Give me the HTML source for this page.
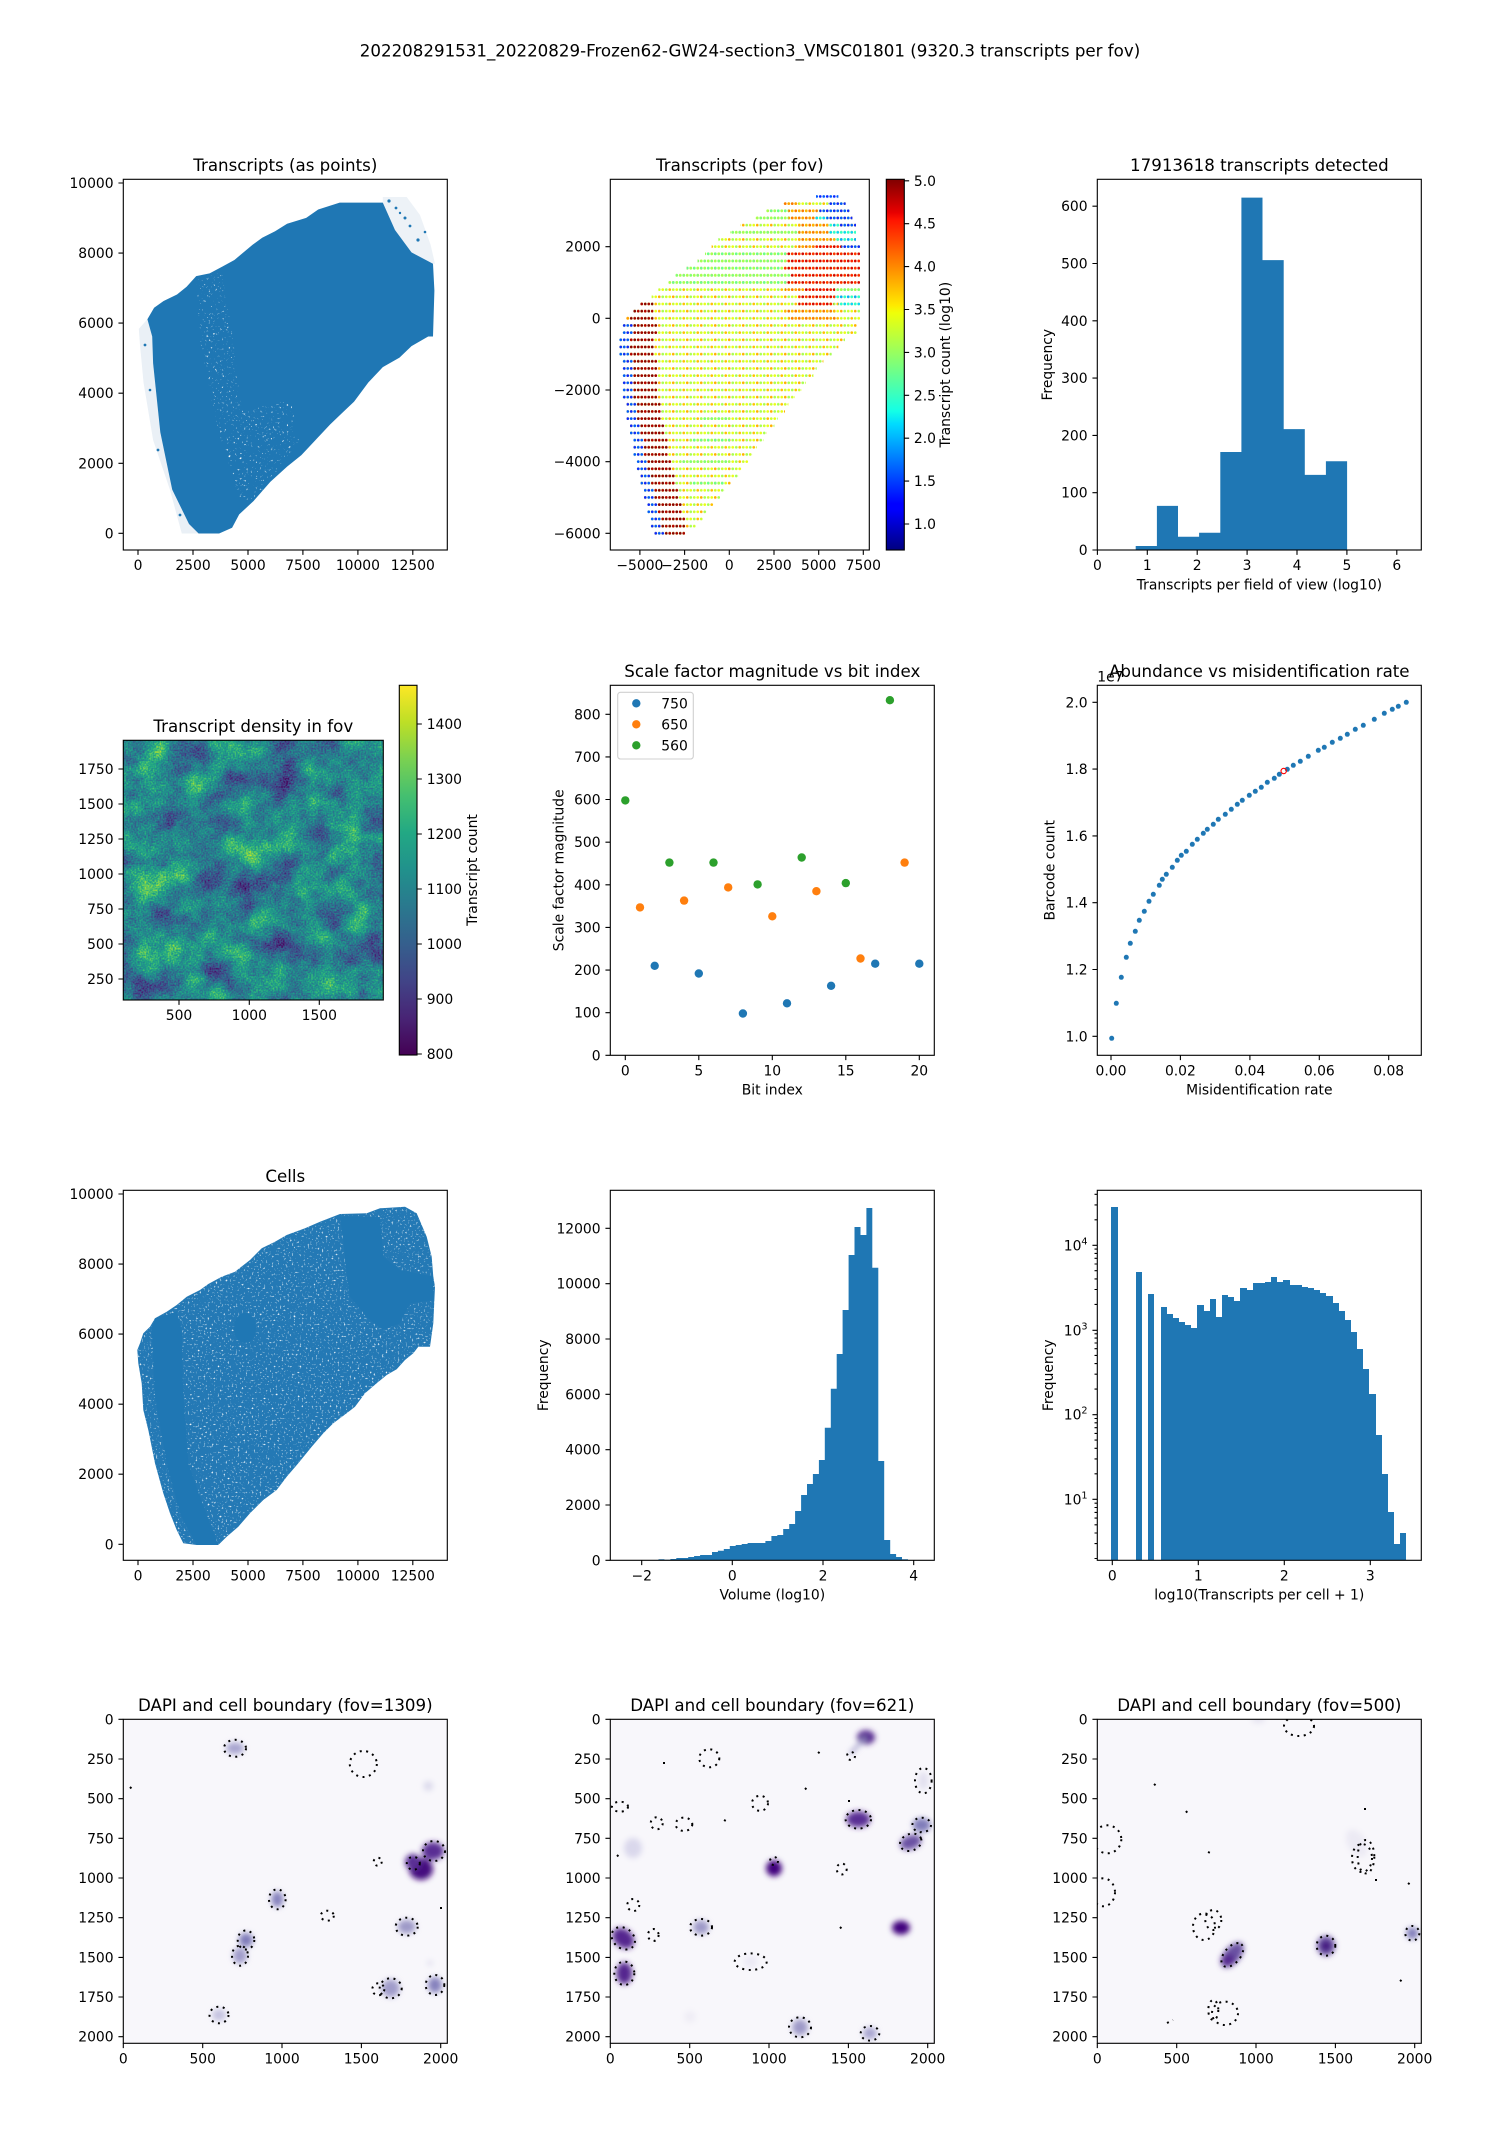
<!DOCTYPE html>
<html><head><meta charset="utf-8"><style>
html,body{margin:0;padding:0;background:#fff}
svg{display:block}
text{font-family:"DejaVu Sans","Liberation Sans",sans-serif;fill:#000}
.tk{font-size:13.89px}
.ti{font-size:16.67px;text-anchor:middle}
.lb{font-size:13.89px;text-anchor:middle}
.e{text-anchor:end}
.m{text-anchor:middle}
.ax{fill:none;stroke:#000;stroke-width:1.11}
.tc{fill:none;stroke:#000;stroke-width:1.11}
.dt{fill:none;stroke:#000;stroke-width:2;stroke-dasharray:2 4.5}
</style></head><body>
<svg width="1500" height="2150" viewBox="0 0 1500 2150" xmlns="http://www.w3.org/2000/svg">
<defs>
<clipPath id="cA"><rect x="123.3" y="179.3" width="324" height="370.7"/></clipPath>
<clipPath id="cG"><rect x="123.3" y="1190.3" width="324" height="370"/></clipPath>
<clipPath id="c4a"><rect x="123.3" y="1719.3" width="324" height="324"/></clipPath>
<clipPath id="c4b"><rect x="610.3" y="1719.3" width="324" height="324"/></clipPath>
<clipPath id="c4c"><rect x="1097.3" y="1719.3" width="324" height="324"/></clipPath>
<linearGradient id="jet" x1="0" y1="1" x2="0" y2="0">
<stop offset="0" stop-color="#000080"/><stop offset="0.11" stop-color="#0000ff"/><stop offset="0.125" stop-color="#0000ff"/><stop offset="0.34" stop-color="#00dbff"/><stop offset="0.375" stop-color="#14ffe6"/><stop offset="0.5" stop-color="#7dff7a"/><stop offset="0.64" stop-color="#f0ff08"/><stop offset="0.66" stop-color="#ffea00"/><stop offset="0.89" stop-color="#ff1400"/><stop offset="0.91" stop-color="#e80000"/><stop offset="1" stop-color="#800000"/>
</linearGradient>
<linearGradient id="vg" x1="0" y1="1" x2="0" y2="0">
<stop offset="0" stop-color="#440154"/><stop offset="0.1" stop-color="#482475"/><stop offset="0.2" stop-color="#414487"/><stop offset="0.3" stop-color="#355f8d"/><stop offset="0.4" stop-color="#2a788e"/><stop offset="0.5" stop-color="#21918c"/><stop offset="0.6" stop-color="#22a884"/><stop offset="0.7" stop-color="#44bf70"/><stop offset="0.8" stop-color="#7ad151"/><stop offset="0.9" stop-color="#bddf26"/><stop offset="1" stop-color="#fde725"/>
</linearGradient>
<filter id="vir" filterUnits="userSpaceOnUse" x="123.3" y="740.3" width="260" height="260" color-interpolation-filters="sRGB">
<feTurbulence type="fractalNoise" baseFrequency="0.03" numOctaves="3" seed="11" result="a0"/>
<feColorMatrix in="a0" type="matrix" values="1 0 0 0 0 1 0 0 0 0 1 0 0 0 0 0 0 0 0 1" result="a"/>
<feTurbulence type="fractalNoise" baseFrequency="0.6" numOctaves="1" seed="4" result="b0"/>
<feColorMatrix in="b0" type="matrix" values="1 0 0 0 0 1 0 0 0 0 1 0 0 0 0 0 0 0 0 1" result="b"/>
<feComposite in="a" in2="b" operator="arithmetic" k1="0" k2="0.6" k3="0.4" k4="0" result="c"/>
<feColorMatrix in="c" type="matrix" values="1.5 0 0 0 -0.3 1.5 0 0 0 -0.3 1.5 0 0 0 -0.3 0 0 0 0 1"/>
<feComponentTransfer>
<feFuncR type="table" tableValues="0.267 0.282 0.255 0.208 0.165 0.129 0.133 0.267 0.478 0.741 0.993"/>
<feFuncG type="table" tableValues="0.005 0.141 0.267 0.373 0.471 0.567 0.659 0.749 0.821 0.873 0.906"/>
<feFuncB type="table" tableValues="0.329 0.458 0.530 0.553 0.558 0.551 0.518 0.441 0.318 0.150 0.144"/>
</feComponentTransfer>
</filter>
<filter id="spk" x="0" y="0" width="1" height="1" color-interpolation-filters="sRGB">
<feTurbulence type="fractalNoise" baseFrequency="0.45" numOctaves="2" seed="7"/>
<feColorMatrix type="matrix" values="0 0 0 0 1 0 0 0 0 1 0 0 0 0 1 6 0 0 0 -4.0"/>
<feComposite in2="SourceGraphic" operator="in"/>
</filter>
<filter id="spk2" x="0" y="0" width="1" height="1" color-interpolation-filters="sRGB">
<feTurbulence type="fractalNoise" baseFrequency="0.5" numOctaves="2" seed="3"/>
<feColorMatrix type="matrix" values="0 0 0 0 1 0 0 0 0 1 0 0 0 0 1 5 0 0 0 -3.15"/>
<feComposite in2="SourceGraphic" operator="in"/>
</filter>
<filter id="bl" x="-1" y="-1" width="3" height="3"><feGaussianBlur stdDeviation="3"/></filter>
<pattern id="pM" patternUnits="userSpaceOnUse" x="619" y="314.72" width="14" height="14.333">
<circle cx="1.75" cy="3.583" r="1.35" fill="#e8ff18"/><circle cx="5.25" cy="3.583" r="1.35" fill="#a8ff50"/><circle cx="8.75" cy="3.583" r="1.35" fill="#ffc000"/><circle cx="12.25" cy="3.583" r="1.35" fill="#ccff30"/>
<circle cx="1.75" cy="10.75" r="1.35" fill="#a8ff50"/><circle cx="5.25" cy="10.75" r="1.35" fill="#ccff30"/><circle cx="8.75" cy="10.75" r="1.35" fill="#e8ff18"/><circle cx="12.25" cy="10.75" r="1.35" fill="#ffb000"/>
</pattern>
<pattern id="pG" patternUnits="userSpaceOnUse" x="619" y="314.72" width="7" height="14.333"><circle cx="1.75" cy="3.583" r="1.35" fill="#7cff7a"/><circle cx="5.25" cy="3.583" r="1.35" fill="#a4ff52"/><circle cx="1.75" cy="10.75" r="1.35" fill="#a4ff52"/><circle cx="5.25" cy="10.75" r="1.35" fill="#66ff90"/></pattern>
<pattern id="pB" patternUnits="userSpaceOnUse" x="619" y="314.72" width="7" height="14.333"><circle cx="1.75" cy="3.583" r="1.35" fill="#0a28ff"/><circle cx="5.25" cy="3.583" r="1.35" fill="#0058ff"/><circle cx="1.75" cy="10.75" r="1.35" fill="#0058ff"/><circle cx="5.25" cy="10.75" r="1.35" fill="#0a28ff"/></pattern>
<pattern id="pC" patternUnits="userSpaceOnUse" x="619" y="314.72" width="7" height="14.333"><circle cx="1.75" cy="3.583" r="1.35" fill="#00d8ff"/><circle cx="5.25" cy="3.583" r="1.35" fill="#2affd0"/><circle cx="1.75" cy="10.75" r="1.35" fill="#2affd0"/><circle cx="5.25" cy="10.75" r="1.35" fill="#00b0ff"/></pattern>
<pattern id="pO" patternUnits="userSpaceOnUse" x="619" y="314.72" width="7" height="14.333"><circle cx="1.75" cy="3.583" r="1.35" fill="#ffa000"/><circle cx="5.25" cy="3.583" r="1.35" fill="#ff7400"/><circle cx="1.75" cy="10.75" r="1.35" fill="#ff7400"/><circle cx="5.25" cy="10.75" r="1.35" fill="#ffb400"/></pattern>
<pattern id="pR" patternUnits="userSpaceOnUse" x="619" y="314.72" width="7" height="14.333"><circle cx="1.75" cy="3.583" r="1.35" fill="#ff1e00"/><circle cx="5.25" cy="3.583" r="1.35" fill="#d80000"/><circle cx="1.75" cy="10.75" r="1.35" fill="#d80000"/><circle cx="5.25" cy="10.75" r="1.35" fill="#ff3000"/></pattern>
<pattern id="pD" patternUnits="userSpaceOnUse" x="619" y="314.72" width="7" height="14.333"><circle cx="1.75" cy="3.583" r="1.35" fill="#a00000"/><circle cx="5.25" cy="3.583" r="1.35" fill="#8a0000"/><circle cx="1.75" cy="10.75" r="1.35" fill="#8a0000"/><circle cx="5.25" cy="10.75" r="1.35" fill="#b00000"/></pattern>
</defs>
<rect width="1500" height="2150" fill="#fff"/>

<text class="ti" x="750" y="56.5">202208291531_20220829-Frozen62-GW24-section3_VMSC01801 (9320.3 transcripts per fov)</text>

<!-- ========== Panel A ========== -->
<g clip-path="url(#cA)">
<polygon fill="#eaf0f6" points="138.8,328.9 147.4,319.3 152.2,336.5 153.1,363.3 160.3,432.2 172.2,489.6 189,524 198.6,533.5 181.8,533.5 169.9,489.6 153.1,440 143.5,382.4 140,345"/>
<polygon fill="#edf2f7" points="382.8,197 406.7,197 420,215 430.6,244.7 435,263.8 433,263.8 411.5,252.4 395,230 382.8,202.6"/>
<polygon fill="#1f77b4" points="198.6,533.5 219.1,533.5 232.1,527.8 239.2,514.4 253.6,501 270.3,481.9 287.1,466.6 301.4,455.1 315.8,439.8 330.1,424.5 342.1,413 354.1,401.6 368.4,382.4 382.8,367.1 399.5,357.6 411.5,346.1 428.2,336.5 433,336.5 434.4,290.6 433,263.8 411.5,252.4 395,230 382.8,202.6 339.7,202.6 318.2,209.5 306.2,217.9 287.1,223.7 275.1,231.3 262.2,237.8 252.6,244.7 234.4,260 222.5,266.5 209.6,273.4 196.2,276.1 186.6,286.8 177,294.5 163.6,301 154.1,307.8 147.4,319.3 152.2,336.5 153.1,363.3 160.3,432.2 172.2,489.6 189,524"/>
<polygon fill="#000" filter="url(#spk)" points="196,280 222,272 232,330 240,400 268,470 268,500 240,500 215,420 200,340"/>
<polygon fill="#000" filter="url(#spk)" points="240,410 290,400 300,440 270,480"/>
<g fill="#1f77b4"><circle cx="389" cy="201" r="1.6"/><circle cx="396" cy="208" r="1.4"/><circle cx="405" cy="218" r="1.5"/><circle cx="410" cy="226" r="1.4"/><circle cx="418" cy="240" r="1.6"/><circle cx="425" cy="232" r="1.3"/><circle cx="400" cy="213" r="1.2"/><circle cx="145" cy="345" r="1.4"/><circle cx="150" cy="390" r="1.3"/><circle cx="158" cy="450" r="1.4"/><circle cx="180" cy="515" r="1.4"/></g>
</g>
<rect class="ax" x="123.3" y="179.3" width="324" height="370.7"/>
<path class="tc" d="M138 550v4.86M193 550v4.86M248 550v4.86M302.9 550v4.86M357.9 550v4.86M412.8 550v4.86M123.3 533.3h-4.86M123.3 463.3h-4.86M123.3 393.2h-4.86M123.3 323.1h-4.86M123.3 253.1h-4.86M123.3 183h-4.86"/>
<g class="tk m"><text x="138" y="570">0</text><text x="193" y="570">2500</text><text x="248" y="570">5000</text><text x="302.9" y="570">7500</text><text x="357.9" y="570">10000</text><text x="412.8" y="570">12500</text></g>
<g class="tk e"><text x="113.6" y="538.3">0</text><text x="113.6" y="468.3">2000</text><text x="113.6" y="398.2">4000</text><text x="113.6" y="328.1">6000</text><text x="113.6" y="258.1">8000</text><text x="113.6" y="188">10000</text></g>
<text class="ti" x="285.3" y="171">Transcripts (as points)</text>

<!-- ========== Panel B ========== -->
<g fill="url(#pM)">
<rect x="783.3" y="200.1" width="62.4" height="7.17"/>
<rect x="766" y="207.2" width="83.4" height="7.17"/>
<rect x="755" y="214.4" width="97.4" height="7.17"/>
<rect x="740.6" y="221.6" width="115.4" height="7.17"/>
<rect x="730" y="228.7" width="126" height="7.17"/>
<rect x="718.3" y="235.9" width="137.7" height="7.17"/>
<rect x="711.6" y="243.1" width="148.4" height="7.17"/>
<rect x="705" y="250.2" width="155" height="7.17"/>
<rect x="697.6" y="257.4" width="162.4" height="7.17"/>
<rect x="686.6" y="264.6" width="173.4" height="7.17"/>
<rect x="675.6" y="271.7" width="184.4" height="7.17"/>
<rect x="668.3" y="278.9" width="191.7" height="7.17"/>
<rect x="658.3" y="286.1" width="201.7" height="7.17"/>
<rect x="651.6" y="293.2" width="208.4" height="7.17"/>
<rect x="640" y="300.4" width="220" height="7.17"/>
<rect x="633" y="307.5" width="227" height="7.17"/>
<rect x="626" y="314.7" width="234" height="7.17"/>
<rect x="622.3" y="321.9" width="234.4" height="7.17"/>
<rect x="622.3" y="329" width="234.4" height="7.17"/>
<rect x="619" y="336.2" width="226" height="7.17"/>
<rect x="619" y="343.4" width="219.4" height="7.17"/>
<rect x="619" y="350.5" width="212.7" height="7.17"/>
<rect x="622.3" y="357.7" width="201.1" height="7.17"/>
<rect x="622.3" y="364.9" width="194.4" height="7.17"/>
<rect x="622.3" y="372" width="191.1" height="7.17"/>
<rect x="622.3" y="379.2" width="183.4" height="7.17"/>
<rect x="622.3" y="386.4" width="179.4" height="7.17"/>
<rect x="622.3" y="393.5" width="172.7" height="7.17"/>
<rect x="626.6" y="400.7" width="161.8" height="7.17"/>
<rect x="626.6" y="407.9" width="158.4" height="7.17"/>
<rect x="626.6" y="415" width="151.1" height="7.17"/>
<rect x="630" y="422.2" width="144.4" height="7.17"/>
<rect x="630" y="429.4" width="136.7" height="7.17"/>
<rect x="633.3" y="436.5" width="130.1" height="7.17"/>
<rect x="633.3" y="443.7" width="123.4" height="7.17"/>
<rect x="633.3" y="450.9" width="119.1" height="7.17"/>
<rect x="636.6" y="458" width="111.8" height="7.17"/>
<rect x="636.6" y="465.2" width="105.1" height="7.17"/>
<rect x="640.6" y="472.4" width="97.8" height="7.17"/>
<rect x="640.6" y="479.5" width="90.4" height="7.17"/>
<rect x="644" y="486.7" width="80.4" height="7.17"/>
<rect x="644" y="493.9" width="76" height="7.17"/>
<rect x="647.3" y="501" width="66.1" height="7.17"/>
<rect x="647.3" y="508.2" width="59.4" height="7.17"/>
<rect x="650.6" y="515.4" width="52.1" height="7.17"/>
<rect x="650.6" y="522.5" width="45.1" height="7.17"/>
<rect x="654.3" y="529.7" width="30.7" height="7.17"/>
</g>
<g fill="url(#pG)">
<rect x="766" y="207.2" width="24.7" height="7.17"/>
<rect x="755" y="214.4" width="35.7" height="7.17"/>
<rect x="730" y="228.7" width="70.7" height="7.17"/>
<rect x="705" y="250.2" width="81" height="7.17"/>
<rect x="697.6" y="257.4" width="88.7" height="7.17"/>
<rect x="686.6" y="264.6" width="96.7" height="7.17"/>
<rect x="675.6" y="271.7" width="114.4" height="7.17"/>
<rect x="668.3" y="278.9" width="118" height="7.17"/>
<rect x="835" y="286.1" width="25" height="7.17"/>
<rect x="700" y="415" width="30" height="7.17"/>
<rect x="690" y="436.5" width="40" height="7.17"/>
<rect x="680" y="458" width="50" height="7.17"/>
<rect x="690" y="479.5" width="35" height="7.17"/>
</g>
<g fill="url(#pO)">
<rect x="783.3" y="200.1" width="15" height="7.17"/>
<rect x="788.3" y="207.2" width="29.4" height="7.17"/>
<rect x="788.3" y="214.4" width="29.4" height="7.17"/>
<rect x="798.3" y="221.6" width="30.4" height="7.17"/>
<rect x="798.3" y="228.7" width="31" height="7.17"/>
<rect x="798.3" y="235.9" width="39.4" height="7.17"/>
<rect x="798.3" y="243.1" width="16.4" height="7.17"/>
<rect x="785" y="286.1" width="20" height="7.17"/>
<rect x="784.3" y="307.5" width="52" height="7.17"/>
<rect x="626" y="314.7" width="4" height="7.17"/>
<rect x="788.3" y="314.7" width="48" height="7.17"/>
</g>
<g fill="url(#pR)">
<rect x="814.3" y="243.1" width="28.4" height="7.17"/>
<rect x="786.3" y="250.2" width="73.7" height="7.17"/>
<rect x="786.3" y="257.4" width="73.7" height="7.17"/>
<rect x="783.3" y="264.6" width="76.7" height="7.17"/>
<rect x="790" y="271.7" width="70" height="7.17"/>
<rect x="786.3" y="278.9" width="73.7" height="7.17"/>
<rect x="805" y="286.1" width="30" height="7.17"/>
<rect x="798.3" y="293.2" width="38" height="7.17"/>
<rect x="798.3" y="300.4" width="35" height="7.17"/>
</g>
<g fill="url(#pC)">
<rect x="815.3" y="214.4" width="12" height="7.17"/>
<rect x="828.3" y="221.6" width="12" height="7.17"/>
<rect x="828.3" y="228.7" width="27.7" height="7.17"/>
<rect x="835.3" y="235.9" width="20.7" height="7.17"/>
<rect x="835" y="293.2" width="25" height="7.17"/>
<rect x="838.3" y="300.4" width="21.7" height="7.17"/>
</g>
<g fill="url(#pB)">
<rect x="816" y="192.9" width="22.4" height="7.17"/>
<rect x="828.3" y="200.1" width="17.4" height="7.17"/>
<rect x="819.3" y="207.2" width="30.1" height="7.17"/>
<rect x="826.3" y="214.4" width="26.1" height="7.17"/>
<rect x="839.3" y="221.6" width="16.7" height="7.17"/>
<rect x="841.3" y="243.1" width="18.7" height="7.17"/>
<rect x="622.3" y="321.9" width="10.5" height="7.17"/><rect x="622.3" y="329" width="10.5" height="7.17"/><rect x="619" y="336.2" width="10.5" height="7.17"/><rect x="619" y="343.4" width="10.5" height="7.17"/><rect x="619" y="350.5" width="10.5" height="7.17"/><rect x="622.3" y="357.7" width="10.5" height="7.17"/><rect x="622.3" y="364.9" width="10.5" height="7.17"/><rect x="622.3" y="372" width="10.5" height="7.17"/><rect x="622.3" y="379.2" width="10.5" height="7.17"/><rect x="622.3" y="386.4" width="10.5" height="7.17"/><rect x="622.3" y="393.5" width="10.5" height="7.17"/><rect x="626.6" y="400.7" width="10.5" height="7.17"/><rect x="626.6" y="407.9" width="10.5" height="7.17"/><rect x="626.6" y="415" width="10.5" height="7.17"/><rect x="630" y="422.2" width="10.5" height="7.17"/><rect x="630" y="429.4" width="10.5" height="7.17"/><rect x="633.3" y="436.5" width="10.5" height="7.17"/><rect x="633.3" y="443.7" width="10.5" height="7.17"/><rect x="633.3" y="450.9" width="10.5" height="7.17"/><rect x="636.6" y="458" width="10.5" height="7.17"/><rect x="636.6" y="465.2" width="10.5" height="7.17"/><rect x="640.6" y="472.4" width="10.5" height="7.17"/><rect x="640.6" y="479.5" width="10.5" height="7.17"/><rect x="644" y="486.7" width="10.5" height="7.17"/><rect x="644" y="493.9" width="10.5" height="7.17"/><rect x="647.3" y="501" width="10.5" height="7.17"/><rect x="647.3" y="508.2" width="10.5" height="7.17"/><rect x="650.6" y="515.4" width="10.5" height="7.17"/><rect x="650.6" y="522.5" width="10.5" height="7.17"/><rect x="654.3" y="529.7" width="10.5" height="7.17"/>
</g>
<g fill="url(#pD)">
<rect x="640" y="300.4" width="13.3" height="7.17"/>
<rect x="633" y="307.5" width="20.3" height="7.17"/>
<rect x="630" y="314.7" width="23.4" height="7.17"/>
<rect x="632.8" y="321.9" width="24.5" height="7.17"/><rect x="632.8" y="329" width="24.5" height="7.17"/><rect x="629.5" y="336.2" width="24.5" height="7.17"/><rect x="629.5" y="343.4" width="24.5" height="7.17"/><rect x="629.5" y="350.5" width="24.5" height="7.17"/><rect x="632.8" y="357.7" width="24.5" height="7.17"/><rect x="632.8" y="364.9" width="24.5" height="7.17"/><rect x="632.8" y="372" width="24.5" height="7.17"/><rect x="632.8" y="379.2" width="24.5" height="7.17"/><rect x="632.8" y="386.4" width="24.5" height="7.17"/><rect x="632.8" y="393.5" width="24.5" height="7.17"/><rect x="637.1" y="400.7" width="24.5" height="7.17"/><rect x="637.1" y="407.9" width="24.5" height="7.17"/><rect x="637.1" y="415" width="24.5" height="7.17"/><rect x="640.5" y="422.2" width="24.5" height="7.17"/><rect x="640.5" y="429.4" width="24.5" height="7.17"/><rect x="643.8" y="436.5" width="24.5" height="7.17"/><rect x="643.8" y="443.7" width="24.5" height="7.17"/><rect x="643.8" y="450.9" width="24.5" height="7.17"/><rect x="647.1" y="458" width="24.5" height="7.17"/><rect x="647.1" y="465.2" width="24.5" height="7.17"/><rect x="651.1" y="472.4" width="24.5" height="7.17"/><rect x="651.1" y="479.5" width="24.5" height="7.17"/><rect x="654.5" y="486.7" width="24.5" height="7.17"/><rect x="654.5" y="493.9" width="24.5" height="7.17"/><rect x="657.8" y="501" width="24.5" height="7.17"/><rect x="657.8" y="508.2" width="24.5" height="7.17"/><rect x="661.1" y="515.4" width="24.5" height="7.17"/><rect x="661.1" y="522.5" width="24.5" height="7.17"/><rect x="664.8" y="529.7" width="20.2" height="7.17"/>
</g>
<rect class="ax" x="610.3" y="179.3" width="259" height="370.7"/>
<path class="tc" d="M639.9 550v4.86M684.6 550v4.86M729.3 550v4.86M774 550v4.86M818.7 550v4.86M863.3 550v4.86M610.3 246.7h-4.86M610.3 318.3h-4.86M610.3 390h-4.86M610.3 461.7h-4.86M610.3 533.3h-4.86"/>
<g class="tk m"><text x="639.9" y="570">−5000</text><text x="684.6" y="570">−2500</text><text x="729.3" y="570">0</text><text x="774" y="570">2500</text><text x="818.7" y="570">5000</text><text x="863.3" y="570">7500</text></g>
<g class="tk e"><text x="600.6" y="251.7">2000</text><text x="600.6" y="323.3">0</text><text x="600.6" y="395">−2000</text><text x="600.6" y="466.7">−4000</text><text x="600.6" y="538.3">−6000</text></g>
<text class="ti" x="739.8" y="171">Transcripts (per fov)</text>
<rect x="886.3" y="179.3" width="18" height="370.7" fill="url(#jet)"/>
<rect class="ax" x="886.3" y="179.3" width="18" height="370.7"/>
<path class="tc" d="M904.3 524h4.86M904.3 481.1h4.86M904.3 438.2h4.86M904.3 395.3h4.86M904.3 352.4h4.86M904.3 309.5h4.86M904.3 266.6h4.86M904.3 223.7h4.86M904.3 180.8h4.86"/>
<g class="tk"><text x="913.9" y="529">1.0</text><text x="913.9" y="486.1">1.5</text><text x="913.9" y="443.2">2.0</text><text x="913.9" y="400.3">2.5</text><text x="913.9" y="357.4">3.0</text><text x="913.9" y="314.5">3.5</text><text x="913.9" y="271.6">4.0</text><text x="913.9" y="228.7">4.5</text><text x="913.9" y="185.8">5.0</text></g>
<text class="lb" transform="translate(950,364.7) rotate(-90)">Transcript count (log10)</text>

<!-- ========== Panel C ========== -->
<path fill="#1f77b4" d="M1135.7 550V546H1156.9V505.9H1178V536.8H1199.1V532.8H1220.3V452H1241.4V197.6H1262.5V260.1H1283.7V429.1H1304.8V474.9H1325.9V461.2H1347.1V550Z"/>
<rect class="ax" x="1097.3" y="179.3" width="324" height="370.7"/>
<path class="tc" d="M1097.4 550v4.86M1147.3 550v4.86M1197.2 550v4.86M1247.1 550v4.86M1297 550v4.86M1346.9 550v4.86M1396.8 550v4.86M1097.3 550h-4.86M1097.3 492.7h-4.86M1097.3 435.4h-4.86M1097.3 378.1h-4.86M1097.3 320.8h-4.86M1097.3 263.5h-4.86M1097.3 206.2h-4.86"/>
<g class="tk m"><text x="1097.4" y="570">0</text><text x="1147.3" y="570">1</text><text x="1197.2" y="570">2</text><text x="1247.1" y="570">3</text><text x="1297" y="570">4</text><text x="1346.9" y="570">5</text><text x="1396.8" y="570">6</text></g>
<g class="tk e"><text x="1087.6" y="555">0</text><text x="1087.6" y="497.7">100</text><text x="1087.6" y="440.4">200</text><text x="1087.6" y="383.1">300</text><text x="1087.6" y="325.8">400</text><text x="1087.6" y="268.5">500</text><text x="1087.6" y="211.2">600</text></g>
<text class="ti" x="1259.4" y="171">17913618 transcripts detected</text>
<text class="lb" x="1259.4" y="589.3">Transcripts per field of view (log10)</text>
<text class="lb" transform="translate(1052,364.7) rotate(-90)">Frequency</text>

<!-- ========== Panel D ========== -->
<rect x="123.3" y="740.3" width="260" height="260" fill="#2a788e" filter="url(#vir)"/>
<rect class="ax" x="123.3" y="740.3" width="260" height="259.7"/>
<path class="tc" d="M179 1000v4.86M249.3 1000v4.86M319.3 1000v4.86M123.3 979h-4.86M123.3 944h-4.86M123.3 909h-4.86M123.3 874h-4.86M123.3 839h-4.86M123.3 804h-4.86M123.3 769h-4.86"/>
<g class="tk m"><text x="179" y="1020">500</text><text x="249.3" y="1020">1000</text><text x="319.3" y="1020">1500</text></g>
<g class="tk e"><text x="113.6" y="984">250</text><text x="113.6" y="949">500</text><text x="113.6" y="914">750</text><text x="113.6" y="879">1000</text><text x="113.6" y="844">1250</text><text x="113.6" y="809">1500</text><text x="113.6" y="774">1750</text></g>
<text class="ti" x="253.3" y="732">Transcript density in fov</text>
<rect x="399.3" y="685.3" width="17.7" height="369.7" fill="url(#vg)"/>
<rect class="ax" x="399.3" y="685.3" width="17.7" height="369.7"/>
<path class="tc" d="M417 1054h4.86M417 999h4.86M417 944h4.86M417 889h4.86M417 834h4.86M417 779h4.86M417 724h4.86"/>
<g class="tk"><text x="426.7" y="1059">800</text><text x="426.7" y="1004">900</text><text x="426.7" y="949">1000</text><text x="426.7" y="894">1100</text><text x="426.7" y="839">1200</text><text x="426.7" y="784">1300</text><text x="426.7" y="729">1400</text></g>
<text class="lb" transform="translate(476.8,870) rotate(-90)">Transcript count</text>

<!-- ========== Panel E ========== -->
<g fill="#1f77b4"><circle cx="654.7" cy="965.8" r="4.2"/><circle cx="698.8" cy="973.5" r="4.2"/><circle cx="742.9" cy="1013.5" r="4.2"/><circle cx="787" cy="1003.3" r="4.2"/><circle cx="831.1" cy="985.8" r="4.2"/><circle cx="875.2" cy="963.7" r="4.2"/><circle cx="919.3" cy="963.7" r="4.2"/></g>
<g fill="#ff7f0e"><circle cx="640" cy="907.4" r="4.2"/><circle cx="684.1" cy="900.6" r="4.2"/><circle cx="728.2" cy="887.4" r="4.2"/><circle cx="772.3" cy="916.3" r="4.2"/><circle cx="816.4" cy="891.2" r="4.2"/><circle cx="860.5" cy="958.5" r="4.2"/><circle cx="904.6" cy="862.6" r="4.2"/></g>
<g fill="#2ca02c"><circle cx="625.3" cy="800.4" r="4.2"/><circle cx="669.4" cy="862.6" r="4.2"/><circle cx="713.5" cy="862.6" r="4.2"/><circle cx="757.6" cy="884.4" r="4.2"/><circle cx="801.7" cy="857.5" r="4.2"/><circle cx="845.8" cy="883.1" r="4.2"/><circle cx="889.9" cy="700.2" r="4.2"/></g>
<rect x="617.7" y="692.3" width="75.6" height="66.7" rx="2.8" fill="#fff" fill-opacity="0.8" stroke="#d0d0d0" stroke-width="1.1"/>
<circle cx="636.3" cy="703.3" r="4.2" fill="#1f77b4"/><circle cx="636.3" cy="724.3" r="4.2" fill="#ff7f0e"/><circle cx="636.3" cy="745.3" r="4.2" fill="#2ca02c"/>
<g class="tk"><text x="661.3" y="708.3">750</text><text x="661.3" y="729.3">650</text><text x="661.3" y="750.3">560</text></g>
<rect class="ax" x="610.3" y="685.3" width="324" height="370"/>
<path class="tc" d="M625.3 1055.3v4.86M698.8 1055.3v4.86M772.3 1055.3v4.86M845.8 1055.3v4.86M919.3 1055.3v4.86M610.3 1055.3h-4.86M610.3 1012.7h-4.86M610.3 970.1h-4.86M610.3 927.4h-4.86M610.3 884.8h-4.86M610.3 842.2h-4.86M610.3 799.5h-4.86M610.3 756.9h-4.86M610.3 714.3h-4.86"/>
<g class="tk m"><text x="625.3" y="1075.3">0</text><text x="698.8" y="1075.3">5</text><text x="772.3" y="1075.3">10</text><text x="845.8" y="1075.3">15</text><text x="919.3" y="1075.3">20</text></g>
<g class="tk e"><text x="600.6" y="1060.3">0</text><text x="600.6" y="1017.7">100</text><text x="600.6" y="975.1">200</text><text x="600.6" y="932.4">300</text><text x="600.6" y="889.8">400</text><text x="600.6" y="847.2">500</text><text x="600.6" y="804.5">600</text><text x="600.6" y="761.9">700</text><text x="600.6" y="719.3">800</text></g>
<text class="ti" x="772.3" y="677">Scale factor magnitude vs bit index</text>
<text class="lb" x="772.3" y="1094.6">Bit index</text>
<text class="lb" transform="translate(563.5,870.3) rotate(-90)">Scale factor magnitude</text>

<!-- ========== Panel F ========== -->
<g fill="#1f77b4">
<circle cx="1111.7" cy="1038.3" r="2.5"/><circle cx="1116.3" cy="1003.3" r="2.5"/><circle cx="1121.3" cy="977.3" r="2.5"/><circle cx="1126.3" cy="957.3" r="2.5"/><circle cx="1130.3" cy="943.3" r="2.5"/><circle cx="1135.3" cy="931.3" r="2.5"/><circle cx="1139.3" cy="920.3" r="2.5"/><circle cx="1144.3" cy="911.3" r="2.5"/><circle cx="1149" cy="901.3" r="2.5"/><circle cx="1153.3" cy="894.3" r="2.5"/><circle cx="1159.3" cy="885.3" r="2.5"/><circle cx="1162.3" cy="879.3" r="2.5"/><circle cx="1166.3" cy="874.3" r="2.5"/><circle cx="1172.3" cy="867.3" r="2.5"/><circle cx="1177.3" cy="860.3" r="2.5"/><circle cx="1181.3" cy="855.3" r="2.5"/><circle cx="1186.3" cy="851.3" r="2.5"/><circle cx="1192.3" cy="844.3" r="2.5"/><circle cx="1197.3" cy="839.3" r="2.5"/><circle cx="1203.3" cy="833.3" r="2.5"/><circle cx="1207.3" cy="829.3" r="2.5"/><circle cx="1213.3" cy="824.3" r="2.5"/><circle cx="1218.3" cy="819.3" r="2.5"/><circle cx="1225.3" cy="814.3" r="2.5"/><circle cx="1231.3" cy="809.3" r="2.5"/><circle cx="1237.3" cy="804.3" r="2.5"/><circle cx="1242.3" cy="800.3" r="2.5"/><circle cx="1249.3" cy="795.3" r="2.5"/><circle cx="1255.3" cy="791.3" r="2.5"/><circle cx="1261.3" cy="787.3" r="2.5"/><circle cx="1267.3" cy="782.3" r="2.5"/><circle cx="1274.3" cy="778.3" r="2.5"/><circle cx="1279.3" cy="774.3" r="2.5"/><circle cx="1287.3" cy="769.3" r="2.5"/><circle cx="1293.3" cy="765.3" r="2.5"/><circle cx="1300.3" cy="761.3" r="2.5"/><circle cx="1308.3" cy="756.3" r="2.5"/><circle cx="1318.3" cy="750.3" r="2.5"/><circle cx="1324.3" cy="747.3" r="2.5"/><circle cx="1332.3" cy="742.3" r="2.5"/><circle cx="1340.3" cy="738.3" r="2.5"/><circle cx="1347.3" cy="734.3" r="2.5"/><circle cx="1355.3" cy="729.3" r="2.5"/><circle cx="1363.3" cy="725.3" r="2.5"/><circle cx="1374.3" cy="719.3" r="2.5"/><circle cx="1384.3" cy="713.3" r="2.5"/><circle cx="1392.3" cy="709.3" r="2.5"/><circle cx="1398.3" cy="706.3" r="2.5"/><circle cx="1406.3" cy="702.3" r="2.5"/>
</g>
<circle cx="1283.7" cy="771" r="2.7" fill="none" stroke="#ff0000" stroke-width="1.1"/>
<rect class="ax" x="1097.3" y="685.3" width="324" height="370"/>
<path class="tc" d="M1111 1055.3v4.86M1180.4 1055.3v4.86M1249.9 1055.3v4.86M1319.3 1055.3v4.86M1388.7 1055.3v4.86M1097.3 1036.3h-4.86M1097.3 969.5h-4.86M1097.3 902.7h-4.86M1097.3 835.9h-4.86M1097.3 769.1h-4.86M1097.3 702.3h-4.86"/>
<g class="tk m"><text x="1111" y="1075.3">0.00</text><text x="1180.4" y="1075.3">0.02</text><text x="1249.9" y="1075.3">0.04</text><text x="1319.3" y="1075.3">0.06</text><text x="1388.7" y="1075.3">0.08</text></g>
<g class="tk e"><text x="1087.6" y="1041.3">1.0</text><text x="1087.6" y="974.5">1.2</text><text x="1087.6" y="907.7">1.4</text><text x="1087.6" y="840.9">1.6</text><text x="1087.6" y="774.1">1.8</text><text x="1087.6" y="707.3">2.0</text></g>
<text class="tk" x="1097.3" y="681.5">1e7</text>
<text class="ti" x="1259.3" y="677">Abundance vs misidentification rate</text>
<text class="lb" x="1259.3" y="1094.6">Misidentification rate</text>
<text class="lb" transform="translate(1054.4,870.3) rotate(-90)">Barcode count</text>

<!-- ========== Panel G ========== -->
<g clip-path="url(#cG)">
<polygon fill="#2479b5" points="196.7,1545 183.3,1543.3 176.7,1530 170,1513.3 163.3,1493.3 155,1463.3 148.3,1430 143.3,1410 141.7,1383.3 138.3,1363.3 137.3,1350 140,1343.3 143.3,1333.3 150,1326.7 155,1318.3 166.7,1311.7 176.7,1305 186.7,1296.7 200,1290 208.3,1284 221.7,1276.7 235,1271.7 250,1260 261.7,1248.3 275,1241.7 286.7,1235 305,1228.3 320,1221.7 340,1214 366.7,1213.3 380,1208.3 405,1206.7 416.7,1213.3 426.7,1236.7 431.7,1256.7 433.3,1276.7 435,1286.7 433.3,1323.3 430,1346.7 418.3,1346.7 413.3,1353.3 405,1360 396.7,1369.3 386.7,1375 376.7,1383.3 365,1393.3 355,1406.7 346.7,1413.3 333.3,1423.3 323.3,1433.3 311.7,1446.7 298.3,1463.3 286.7,1476.7 276.7,1490 263.3,1500 250,1513.3 238.3,1526.7 226.7,1536.7 218.3,1545"/>
<polygon fill="#000" filter="url(#spk2)" points="196.7,1545 183.3,1543.3 176.7,1530 170,1513.3 163.3,1493.3 155,1463.3 148.3,1430 143.3,1410 141.7,1383.3 138.3,1363.3 137.3,1350 140,1343.3 143.3,1333.3 150,1326.7 155,1318.3 166.7,1311.7 176.7,1305 186.7,1296.7 200,1290 208.3,1284 221.7,1276.7 235,1271.7 250,1260 261.7,1248.3 275,1241.7 286.7,1235 305,1228.3 320,1221.7 340,1214 366.7,1213.3 380,1208.3 405,1206.7 416.7,1213.3 426.7,1236.7 431.7,1256.7 433.3,1276.7 435,1286.7 433.3,1323.3 430,1346.7 418.3,1346.7 413.3,1353.3 405,1360 396.7,1369.3 386.7,1375 376.7,1383.3 365,1393.3 355,1406.7 346.7,1413.3 333.3,1423.3 323.3,1433.3 311.7,1446.7 298.3,1463.3 286.7,1476.7 276.7,1490 263.3,1500 250,1513.3 238.3,1526.7 226.7,1536.7 218.3,1545"/>
<polygon fill="#1f77b4" points="155,1318.3 176.7,1311.7 181.7,1330 183.3,1396.7 188.3,1463.3 200,1496.7 218.3,1545 196.7,1545 180,1513.3 166.7,1463.3 155,1396.7 151.7,1330"/>
<polygon fill="#1f77b4" points="340,1216.7 380,1216.7 383.3,1256.7 400,1270 433.3,1276.7 433.3,1300 410,1303.3 400,1323.3 383.3,1330 366.7,1316.7 350,1296.7 346.7,1273.3 343.3,1240"/>
<ellipse fill="#1f77b4" cx="245" cy="1328" rx="11" ry="15"/>
</g>
<rect class="ax" x="123.3" y="1190.3" width="324" height="370"/>
<path class="tc" d="M138 1560.3v4.86M193 1560.3v4.86M248 1560.3v4.86M302.9 1560.3v4.86M357.9 1560.3v4.86M412.8 1560.3v4.86M123.3 1544.3h-4.86M123.3 1474.2h-4.86M123.3 1404.2h-4.86M123.3 1334.1h-4.86M123.3 1264.1h-4.86M123.3 1194h-4.86"/>
<g class="tk m"><text x="138" y="1580.3">0</text><text x="193" y="1580.3">2500</text><text x="248" y="1580.3">5000</text><text x="302.9" y="1580.3">7500</text><text x="357.9" y="1580.3">10000</text><text x="412.8" y="1580.3">12500</text></g>
<g class="tk e"><text x="113.6" y="1549.3">0</text><text x="113.6" y="1479.2">2000</text><text x="113.6" y="1409.2">4000</text><text x="113.6" y="1339.1">6000</text><text x="113.6" y="1269.1">8000</text><text x="113.6" y="1199">10000</text></g>
<text class="ti" x="285.3" y="1182">Cells</text>

<!-- ========== Panel H ========== -->
<path fill="#1f77b4" d="M658.5 1560.3V1559.3H664.4V1559.7H670.4V1559H676.3V1558H688.2V1557H694.1V1556H700.1V1555H712V1552H717.9V1550.7H723.8V1549H729.8V1546H735.7V1545H741.7V1544H747.6V1543H765.4V1541H771.4V1536H777.3V1535H783.2V1529H789.2V1524H795.1V1511H801.1V1495H807V1484H812.9V1474H818.9V1460H824.8V1427.7H830.8V1388.7H836.7V1354H842.6V1310H848.6V1255H854.5V1227H860.5V1235H866.4V1208H872.3V1267.7H878.3V1461H884.2V1540H890.2V1554H896.1V1557H902V1559.3H908V1560.3Z"/>
<rect class="ax" x="610.3" y="1190.3" width="324" height="370"/>
<path class="tc" d="M641.7 1560.3v4.86M732.3 1560.3v4.86M823 1560.3v4.86M913.7 1560.3v4.86M610.3 1560.3h-4.86M610.3 1505h-4.86M610.3 1449.7h-4.86M610.3 1394.3h-4.86M610.3 1339h-4.86M610.3 1283.7h-4.86M610.3 1228.3h-4.86"/>
<g class="tk m"><text x="641.7" y="1580.3">−2</text><text x="732.3" y="1580.3">0</text><text x="823" y="1580.3">2</text><text x="913.7" y="1580.3">4</text></g>
<g class="tk e"><text x="600.6" y="1565.3">0</text><text x="600.6" y="1510">2000</text><text x="600.6" y="1454.7">4000</text><text x="600.6" y="1399.3">6000</text><text x="600.6" y="1344">8000</text><text x="600.6" y="1288.7">10000</text><text x="600.6" y="1233.3">12000</text></g>
<text class="lb" x="772.3" y="1599.6">Volume (log10)</text>
<text class="lb" transform="translate(547.8,1375.3) rotate(-90)">Frequency</text>

<!-- ========== Panel I ========== -->
<path fill="#1f77b4" d="M1111 1560V1207H1118V1560ZM1136 1560V1272H1142V1560ZM1148 1560V1294H1154V1560ZM1161 1560V1307H1167V1314H1173V1318H1179V1322H1185V1325H1191V1328H1197V1305H1204V1311H1210V1299H1216V1317H1222V1295H1228V1297H1234V1301H1240V1288H1247V1290H1253V1283H1265V1282H1271V1277H1277V1282H1283V1280H1290V1285H1302V1287H1308V1288H1314V1290H1320V1293H1326V1296H1333V1303H1339V1311H1345V1320H1351V1332H1357V1349H1363V1369H1369V1394H1376V1435H1382V1474H1388V1512H1394V1544H1400V1533H1406V1560Z"/>
<rect class="ax" x="1097.3" y="1190.3" width="324" height="370"/>
<path class="tc" d="M1112.3 1560.3v4.86M1198.3 1560.3v4.86M1284.3 1560.3v4.86M1370.3 1560.3v4.86M1097.3 1499.3h-4.86M1097.3 1414.7h-4.86M1097.3 1330.3h-4.86M1097.3 1245.3h-4.86"/>
<path class="tc" d="M1097.3 1558.5h-2.78M1097.3 1543.6h-2.78M1097.3 1533h-2.78M1097.3 1524.8h-2.78M1097.3 1518.1h-2.78M1097.3 1512.4h-2.78M1097.3 1507.5h-2.78M1097.3 1503.2h-2.78M1097.3 1473.8h-2.78M1097.3 1458.9h-2.78M1097.3 1448.3h-2.78M1097.3 1440.1h-2.78M1097.3 1433.4h-2.78M1097.3 1427.7h-2.78M1097.3 1422.8h-2.78M1097.3 1418.5h-2.78M1097.3 1389.1h-2.78M1097.3 1374.2h-2.78M1097.3 1363.6h-2.78M1097.3 1355.4h-2.78M1097.3 1348.7h-2.78M1097.3 1343h-2.78M1097.3 1338.1h-2.78M1097.3 1333.8h-2.78M1097.3 1304.4h-2.78M1097.3 1289.5h-2.78M1097.3 1278.9h-2.78M1097.3 1270.7h-2.78M1097.3 1264h-2.78M1097.3 1258.3h-2.78M1097.3 1253.4h-2.78M1097.3 1249.1h-2.78M1097.3 1219.8h-2.78M1097.3 1204.9h-2.78M1097.3 1194.3h-2.78"/>
<g class="tk m"><text x="1112.3" y="1580.3">0</text><text x="1198.3" y="1580.3">1</text><text x="1284.3" y="1580.3">2</text><text x="1370.3" y="1580.3">3</text></g>
<g class="tk e"><text x="1087.6" y="1504.3">10<tspan dy="-6" font-size="9.7">1</tspan></text><text x="1087.6" y="1419.7">10<tspan dy="-6" font-size="9.7">2</tspan></text><text x="1087.6" y="1335.3">10<tspan dy="-6" font-size="9.7">3</tspan></text><text x="1087.6" y="1250.3">10<tspan dy="-6" font-size="9.7">4</tspan></text></g>
<text class="lb" x="1259.3" y="1599.6">log10(Transcripts per cell + 1)</text>
<text class="lb" transform="translate(1052.8,1375.3) rotate(-90)">Frequency</text>

<!-- ========== Row 4: DAPI panels ========== -->
<!-- 4a -->
<g clip-path="url(#c4a)">
<rect x="123.3" y="1719.3" width="324" height="324" fill="#f8f7fb"/>
<g filter="url(#bl)">
<ellipse cx="235" cy="1748.3" rx="9" ry="6" fill="#a8a5d0"/>
<ellipse cx="428.3" cy="1786" rx="5" ry="5" fill="#dcdaec"/>
<ellipse cx="433" cy="1851" rx="11" ry="9" fill="#5a2d94"/>
<ellipse cx="421" cy="1869" rx="12" ry="11" fill="#45087f"/>
<ellipse cx="413" cy="1862" rx="8" ry="8" fill="#5a2d94"/>
<ellipse cx="277.3" cy="1899.3" rx="6" ry="8" fill="#8682bd"/>
<ellipse cx="406.7" cy="1926.7" rx="9" ry="7" fill="#9e9ac8"/>
<ellipse cx="246" cy="1940" rx="7" ry="7" fill="#7f7bb9"/>
<ellipse cx="240" cy="1955.7" rx="7" ry="8" fill="#a09cca"/>
<ellipse cx="430" cy="1963" rx="3" ry="3" fill="#e2e0ef"/>
<ellipse cx="390.7" cy="1988.3" rx="9" ry="9" fill="#a09cca"/>
<ellipse cx="435" cy="1985" rx="7" ry="8" fill="#8682bd"/>
<ellipse cx="219" cy="2015" rx="7" ry="6" fill="#c4c2e0"/>
</g>
<g class="dt">
<ellipse cx="235" cy="1748.3" rx="11" ry="8.5"/>
<ellipse cx="363.3" cy="1764" rx="13.5" ry="13"/>
<ellipse cx="434" cy="1851" rx="11" ry="10"/>
<ellipse cx="413.3" cy="1863.3" rx="6.5" ry="6.5"/>
<ellipse cx="377.7" cy="1861.7" rx="4" ry="4"/>
<ellipse cx="277.3" cy="1899.3" rx="8.3" ry="10"/>
<ellipse cx="327.3" cy="1915.7" rx="6.5" ry="5"/>
<ellipse cx="406.7" cy="1926.7" rx="11" ry="9"/>
<ellipse cx="246" cy="1940" rx="8.3" ry="9.5"/>
<ellipse cx="240" cy="1955.7" rx="8" ry="10"/>
<ellipse cx="390.7" cy="1988.3" rx="11" ry="10"/>
<ellipse cx="378.3" cy="1989.3" rx="6" ry="6"/>
<ellipse cx="435" cy="1985" rx="9.3" ry="10"/>
<ellipse cx="219" cy="2015" rx="9.5" ry="8.3"/>
<path d="M130 1787l3 3M440 1908h4"/>
</g>
</g>
<rect class="ax" x="123.3" y="1719.3" width="324" height="324"/>
<path class="tc" d="M123.3 2043.3v4.86M202.7 2043.3v4.86M282 2043.3v4.86M361.4 2043.3v4.86M440.7 2043.3v4.86M123.3 1719.3h-4.86M123.3 1759h-4.86M123.3 1798.7h-4.86M123.3 1838.3h-4.86M123.3 1878h-4.86M123.3 1917.7h-4.86M123.3 1957.4h-4.86M123.3 1997h-4.86M123.3 2036.7h-4.86"/>
<g class="tk m"><text x="123.3" y="2063.3">0</text><text x="202.7" y="2063.3">500</text><text x="282" y="2063.3">1000</text><text x="361.4" y="2063.3">1500</text><text x="440.7" y="2063.3">2000</text></g>
<g class="tk e"><text x="113.6" y="1724.3">0</text><text x="113.6" y="1764">250</text><text x="113.6" y="1803.7">500</text><text x="113.6" y="1843.3">750</text><text x="113.6" y="1883">1000</text><text x="113.6" y="1922.7">1250</text><text x="113.6" y="1962.4">1500</text><text x="113.6" y="2002">1750</text><text x="113.6" y="2041.7">2000</text></g>
<text class="ti" x="285.3" y="1711">DAPI and cell boundary (fov=1309)</text>

<!-- 4b -->
<g clip-path="url(#c4b)">
<rect x="610.3" y="1719.3" width="324" height="324" fill="#f8f7fb"/>
<g filter="url(#bl)">
<ellipse cx="866" cy="1737.3" rx="9" ry="7" fill="#54278f"/>
<path d="M866 1737L850 1754" stroke="#a09cca" stroke-width="3"/>
<ellipse cx="923.3" cy="1780.7" rx="5" ry="9" fill="#e2e0ef"/>
<ellipse cx="858.3" cy="1819.3" rx="12" ry="8" fill="#5a2d94"/>
<ellipse cx="921.7" cy="1825" rx="9" ry="7" fill="#807dba"/>
<ellipse cx="910.7" cy="1842.3" rx="11" ry="7" fill="#6a51a3" transform="rotate(-20 910.7 1842.3)"/>
<ellipse cx="633" cy="1848" rx="9" ry="10" fill="#dad8ec"/>
<ellipse cx="774" cy="1868.3" rx="8" ry="8" fill="#3f007d"/>
<ellipse cx="701" cy="1927.3" rx="8" ry="7" fill="#9e9ac8"/>
<ellipse cx="901" cy="1927.7" rx="9" ry="7" fill="#3f007d"/>
<ellipse cx="623.3" cy="1938.3" rx="12" ry="9" fill="#54278f" transform="rotate(40 623.3 1938.3)"/>
<ellipse cx="750.7" cy="1961.7" rx="7" ry="6" fill="#ebe9f4"/>
<ellipse cx="624.3" cy="1973.3" rx="8" ry="11" fill="#54278f"/>
<ellipse cx="800" cy="2027.3" rx="8" ry="8" fill="#9e9ac8"/>
<ellipse cx="870" cy="2033.3" rx="7" ry="6" fill="#a8a5d0"/>
<ellipse cx="690" cy="2016.7" rx="6" ry="6" fill="#efedf5"/>
</g>
<g class="dt">
<ellipse cx="709.3" cy="1758.3" rx="10" ry="9"/>
<ellipse cx="923.3" cy="1780.7" rx="8.3" ry="12.7"/>
<ellipse cx="760" cy="1803.3" rx="8" ry="7.5"/>
<ellipse cx="620" cy="1806.7" rx="8" ry="5"/>
<ellipse cx="858.3" cy="1819.3" rx="12.7" ry="9.3"/>
<ellipse cx="921.7" cy="1825" rx="9.3" ry="7.3"/>
<ellipse cx="684" cy="1824.3" rx="8.3" ry="6.7"/>
<ellipse cx="656.7" cy="1823.3" rx="6" ry="6"/>
<ellipse cx="910.7" cy="1842.3" rx="11" ry="8.3" transform="rotate(-20 910.7 1842.3)"/>
<ellipse cx="841.7" cy="1869" rx="5" ry="5.5"/>
<ellipse cx="633.3" cy="1905" rx="6" ry="6"/>
<ellipse cx="701" cy="1927.3" rx="11" ry="8.3"/>
<ellipse cx="653.3" cy="1935" rx="5.3" ry="6"/>
<ellipse cx="623.3" cy="1938.3" rx="12.7" ry="10" transform="rotate(40 623.3 1938.3)"/>
<ellipse cx="750.7" cy="1961.7" rx="16" ry="8.3"/>
<ellipse cx="624.3" cy="1973.3" rx="10" ry="11.7"/>
<ellipse cx="800" cy="2027.3" rx="11" ry="10"/>
<ellipse cx="870" cy="2033.3" rx="9.3" ry="7.3"/>
<ellipse cx="851" cy="1756" rx="4" ry="4"/>
<ellipse cx="774" cy="1861" rx="4" ry="4"/>
<path d="M663 1763h6M818 1752l4 3M805 1788l3 3M849 1800v4M724 1820l4 2M617 1855l3 3M840 1927l3 3"/>
</g>
</g>
<rect class="ax" x="610.3" y="1719.3" width="324" height="324"/>
<path class="tc" d="M610.3 2043.3v4.86M689.7 2043.3v4.86M769 2043.3v4.86M848.4 2043.3v4.86M927.7 2043.3v4.86M610.3 1719.3h-4.86M610.3 1759h-4.86M610.3 1798.7h-4.86M610.3 1838.3h-4.86M610.3 1878h-4.86M610.3 1917.7h-4.86M610.3 1957.4h-4.86M610.3 1997h-4.86M610.3 2036.7h-4.86"/>
<g class="tk m"><text x="610.3" y="2063.3">0</text><text x="689.7" y="2063.3">500</text><text x="769" y="2063.3">1000</text><text x="848.4" y="2063.3">1500</text><text x="927.7" y="2063.3">2000</text></g>
<g class="tk e"><text x="600.6" y="1724.3">0</text><text x="600.6" y="1764">250</text><text x="600.6" y="1803.7">500</text><text x="600.6" y="1843.3">750</text><text x="600.6" y="1883">1000</text><text x="600.6" y="1922.7">1250</text><text x="600.6" y="1962.4">1500</text><text x="600.6" y="2002">1750</text><text x="600.6" y="2041.7">2000</text></g>
<text class="ti" x="772.3" y="1711">DAPI and cell boundary (fov=621)</text>

<!-- 4c -->
<g clip-path="url(#c4c)">
<rect x="1097.3" y="1719.3" width="324" height="324" fill="#f8f7fb"/>
<g filter="url(#bl)">
<ellipse cx="1258.3" cy="1719.3" rx="7" ry="4" fill="#e6e4f1"/>
<ellipse cx="1356.7" cy="1843.3" rx="9" ry="15" fill="#eceaf4" transform="rotate(-30 1356.7 1843.3)"/>
<ellipse cx="1232.3" cy="1955" rx="15" ry="8" fill="#6a51a3" transform="rotate(-50 1232.3 1955)"/>
<ellipse cx="1228" cy="1960" rx="7" ry="6" fill="#54278f"/>
<ellipse cx="1326" cy="1945.7" rx="9" ry="10" fill="#6a51a3"/>
<ellipse cx="1326" cy="1946" rx="5" ry="5" fill="#3f007d"/>
<ellipse cx="1412.3" cy="1933.3" rx="6" ry="6" fill="#807dba"/>
</g>
<g class="dt">
<ellipse cx="1299" cy="1726" rx="15" ry="10"/>
<ellipse cx="1107.3" cy="1839.3" rx="14" ry="14"/>
<ellipse cx="1103.3" cy="1892.3" rx="11.7" ry="14"/>
<ellipse cx="1366" cy="1856.7" rx="8.3" ry="16.7"/>
<ellipse cx="1362" cy="1858" rx="10" ry="14"/>
<ellipse cx="1204" cy="1926.7" rx="11" ry="13.3"/>
<ellipse cx="1213.3" cy="1920" rx="8" ry="10"/>
<ellipse cx="1232.3" cy="1955" rx="14" ry="8" transform="rotate(-50 1232.3 1955)"/>
<ellipse cx="1326" cy="1945.7" rx="9.3" ry="10"/>
<ellipse cx="1412.3" cy="1933.3" rx="7" ry="7.3"/>
<ellipse cx="1225" cy="2013.3" rx="13" ry="11.7"/>
<ellipse cx="1213.3" cy="2010" rx="5" ry="10"/>
<path d="M1154 1784l5 4M1186 1811l3 4M1365 1808v5M1208 1852l5 2M1375 1880h4M1408 1883l4 3M1400 1980l5 4M1167 2023l6 -3"/>
</g>
</g>
<rect class="ax" x="1097.3" y="1719.3" width="324" height="324"/>
<path class="tc" d="M1097.3 2043.3v4.86M1176.7 2043.3v4.86M1256 2043.3v4.86M1335.4 2043.3v4.86M1414.7 2043.3v4.86M1097.3 1719.3h-4.86M1097.3 1759h-4.86M1097.3 1798.7h-4.86M1097.3 1838.3h-4.86M1097.3 1878h-4.86M1097.3 1917.7h-4.86M1097.3 1957.4h-4.86M1097.3 1997h-4.86M1097.3 2036.7h-4.86"/>
<g class="tk m"><text x="1097.3" y="2063.3">0</text><text x="1176.7" y="2063.3">500</text><text x="1256" y="2063.3">1000</text><text x="1335.4" y="2063.3">1500</text><text x="1414.7" y="2063.3">2000</text></g>
<g class="tk e"><text x="1087.6" y="1724.3">0</text><text x="1087.6" y="1764">250</text><text x="1087.6" y="1803.7">500</text><text x="1087.6" y="1843.3">750</text><text x="1087.6" y="1883">1000</text><text x="1087.6" y="1922.7">1250</text><text x="1087.6" y="1962.4">1500</text><text x="1087.6" y="2002">1750</text><text x="1087.6" y="2041.7">2000</text></g>
<text class="ti" x="1259.3" y="1711">DAPI and cell boundary (fov=500)</text>
</svg>
</body></html>
